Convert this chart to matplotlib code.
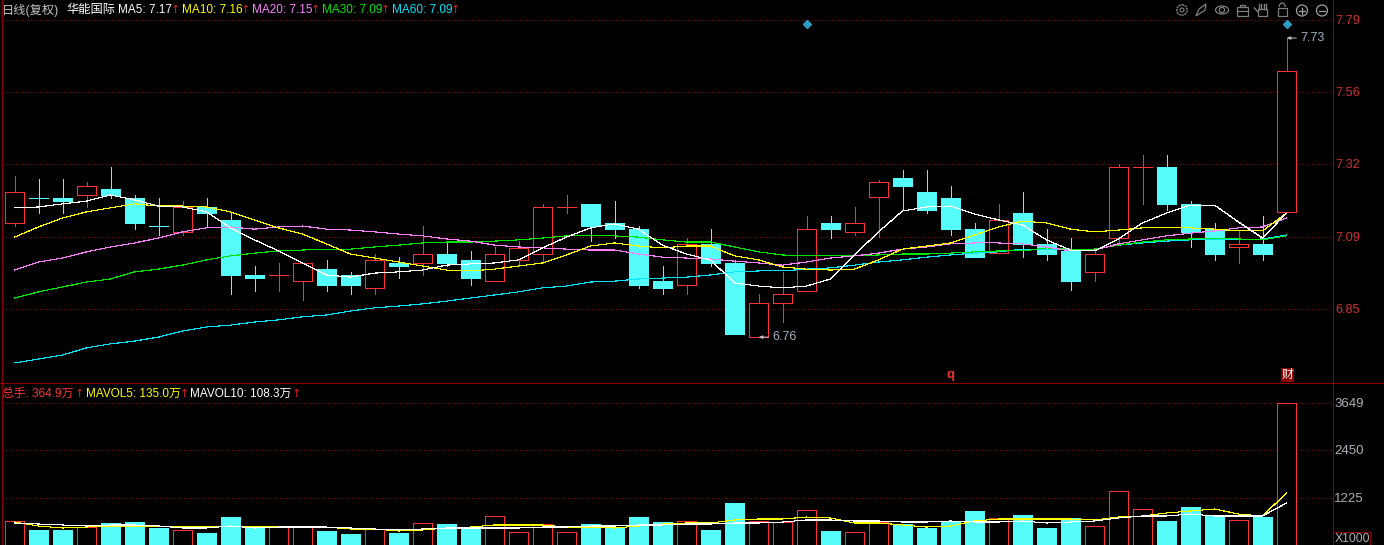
import matplotlib
matplotlib.use("Agg")
import matplotlib.pyplot as plt
from matplotlib.patches import Circle, Ellipse, Rectangle, Arc, Polygon

plt.rcParams['font.family'] = ['Liberation Sans', 'Noto Sans CJK SC', 'DejaVu Sans']

# daily candles
opens = [7.133, 7.213, 7.213, 7.223, 7.242, 7.213, 7.122, 7.103, 7.184, 7.142,
         6.963, 6.963, 6.943, 6.982, 6.963, 6.921, 7.002, 7.002, 7.031, 7.012,
         6.943, 7.012, 7.031, 7.184, 7.194, 7.132, 7.112, 6.943, 6.930, 7.064,
         7.002, 6.761, 6.872, 6.911, 7.132, 7.103, 7.216, 7.278, 7.233, 7.213,
         7.112, 7.034, 7.164, 7.064, 7.041, 6.973, 7.083, 7.314, 7.314, 7.194,
         7.112, 7.054, 7.064, 7.168]
highs = [7.285, 7.275, 7.275, 7.265, 7.314, 7.223, 7.213, 7.203, 7.213, 7.168,
         6.992, 7.002, 7.002, 7.012, 6.973, 7.031, 7.021, 7.122, 7.073, 7.041,
         7.054, 7.073, 7.194, 7.223, 7.194, 7.203, 7.122, 6.992, 7.083, 7.112,
         7.012, 6.901, 6.973, 7.155, 7.155, 7.184, 7.272, 7.304, 7.304, 7.252,
         7.132, 7.194, 7.233, 7.112, 7.083, 7.044, 7.324, 7.353, 7.353, 7.203,
         7.132, 7.109, 7.155, 7.733]
lows = [7.122, 7.164, 7.164, 7.184, 7.213, 7.112, 7.093, 7.093, 7.122, 6.901,
        6.911, 6.911, 6.882, 6.911, 6.901, 6.901, 6.953, 6.963, 6.992, 6.930,
        6.943, 6.992, 7.002, 7.164, 7.073, 7.083, 6.921, 6.901, 6.901, 6.992,
        6.771, 6.761, 6.810, 6.911, 7.083, 7.093, 7.086, 7.174, 7.164, 7.093,
        7.021, 7.034, 7.021, 7.012, 6.914, 6.943, 7.060, 7.194, 7.174, 7.054,
        7.012, 7.002, 7.012, 7.168]
closes = [7.233, 7.213, 7.203, 7.252, 7.223, 7.132, 7.122, 7.184, 7.164, 6.963,
          6.953, 6.963, 7.002, 6.930, 6.930, 7.012, 6.992, 7.031, 7.002, 6.953,
          7.031, 7.051, 7.184, 7.184, 7.122, 7.112, 6.930, 6.921, 7.064, 7.002,
          6.771, 6.872, 6.901, 7.112, 7.112, 7.132, 7.265, 7.252, 7.174, 7.112,
          7.021, 7.142, 7.064, 7.031, 6.943, 7.031, 7.314, 7.314, 7.194, 7.103,
          7.031, 7.064, 7.031, 7.626]
red_days = [0, 3, 7, 11, 12, 15, 17, 20, 21, 22, 23, 28, 31, 32, 33, 35, 36, 41, 45, 46, 47, 51, 53]

ma5 = [7.181, 7.184, 7.194, 7.203, 7.223, 7.207, 7.187, 7.184, 7.168, 7.116,
       7.077, 7.041, 7.002, 6.963, 6.956, 6.969, 6.973, 6.979, 6.995, 6.999,
       7.002, 7.012, 7.051, 7.086, 7.116, 7.129, 7.112, 7.060, 7.031, 7.012,
       6.937, 6.927, 6.921, 6.927, 6.950, 7.028, 7.103, 7.171, 7.184, 7.187,
       7.161, 7.142, 7.125, 7.077, 7.044, 7.041, 7.080, 7.132, 7.164, 7.190,
       7.190, 7.135, 7.083, 7.164]
ma10 = [7.086, 7.119, 7.148, 7.168, 7.181, 7.194, 7.187, 7.187, 7.184, 7.168,
        7.142, 7.116, 7.096, 7.064, 7.031, 7.018, 7.005, 6.992, 6.979, 6.976,
        6.982, 6.992, 7.002, 7.028, 7.057, 7.067, 7.057, 7.051, 7.057, 7.057,
        7.025, 7.012, 6.989, 6.982, 6.979, 6.982, 7.012, 7.047, 7.057, 7.067,
        7.093, 7.119, 7.138, 7.132, 7.112, 7.103, 7.109, 7.116, 7.116, 7.116,
        7.112, 7.106, 7.106, 7.164]
ma20 = [6.979, 7.005, 7.018, 7.038, 7.054, 7.067, 7.083, 7.103, 7.116, 7.119,
        7.112, 7.119, 7.122, 7.112, 7.109, 7.103, 7.096, 7.090, 7.080, 7.073,
        7.060, 7.054, 7.051, 7.047, 7.044, 7.044, 7.031, 7.021, 7.018, 7.015,
        7.008, 7.002, 6.995, 7.005, 7.018, 7.025, 7.034, 7.047, 7.054, 7.064,
        7.067, 7.067, 7.064, 7.054, 7.041, 7.044, 7.064, 7.077, 7.090, 7.099,
        7.106, 7.116, 7.119, 7.148]
ma30 = [6.888, 6.908, 6.924, 6.940, 6.950, 6.973, 6.982, 6.995, 7.012, 7.025,
        7.034, 7.041, 7.044, 7.047, 7.047, 7.054, 7.060, 7.067, 7.070, 7.070,
        7.073, 7.077, 7.083, 7.090, 7.090, 7.090, 7.086, 7.077, 7.070, 7.070,
        7.054, 7.038, 7.028, 7.025, 7.025, 7.025, 7.028, 7.031, 7.031, 7.034,
        7.038, 7.041, 7.041, 7.051, 7.047, 7.047, 7.060, 7.070, 7.077, 7.080,
        7.080, 7.080, 7.077, 7.090]
ma60 = [6.677, 6.690, 6.703, 6.726, 6.739, 6.748, 6.761, 6.781, 6.794, 6.800,
        6.810, 6.817, 6.827, 6.833, 6.846, 6.856, 6.862, 6.869, 6.878, 6.888,
        6.898, 6.908, 6.921, 6.927, 6.940, 6.943, 6.950, 6.953, 6.956, 6.963,
        6.973, 6.976, 6.976, 6.982, 6.986, 6.995, 7.005, 7.012, 7.021, 7.028,
        7.034, 7.038, 7.047, 7.047, 7.047, 7.047, 7.060, 7.067, 7.073, 7.077,
        7.077, 7.077, 7.080, 7.093]

# volume, in units of 1000 lots
volumes = [640, 410, 410, 486, 589, 614, 461, 410, 333, 742,
           461, 486, 486, 384, 307, 435, 333, 589, 563, 435,
           768, 358, 563, 358, 563, 461, 742, 614, 640, 410,
           1101, 640, 614, 922, 384, 358, 614, 563, 461, 614,
           896, 717, 794, 461, 717, 512, 1408, 947, 640, 998,
           768, 666, 742, 3649]
mavol5 = [614, 512, 461, 486, 512, 512, 512, 486, 486, 512,
          486, 486, 486, 486, 435, 435, 384, 410, 461, 486,
          538, 538, 538, 486, 486, 461, 512, 563, 589, 589,
          666, 691, 691, 742, 717, 589, 589, 538, 486, 512,
          640, 691, 691, 691, 691, 666, 742, 768, 845, 896,
          947, 819, 768, 1357]
mavol10 = [589, 563, 538, 512, 538, 538, 512, 461, 461, 512,
           461, 486, 486, 486, 461, 435, 410, 435, 461, 461,
           461, 461, 486, 486, 512, 512, 538, 538, 563, 563,
           589, 589, 614, 666, 666, 640, 640, 614, 614, 640,
           614, 614, 640, 589, 614, 640, 717, 768, 768, 819,
           768, 768, 768, 1101]

price_ticks = [7.79, 7.56, 7.32, 7.09, 6.85]
price_grid = [7.79, 7.556, 7.322, 7.085, 6.851]
vol_ticks = [3649, 2450, 1225]
event_days = [33, 53]
high_day, high_label = 53, '7.73'
low_day, low_label = 31, '6.76'

ma_headers = [('MA5: 7.17', 118, 171, '#ffffff'), ('MA10: 7.16', 182, 241, '#ffff00'),
              ('MA20: 7.15', 252, 311, '#ff80ff'), ('MA30: 7.09', 322, 381, '#00e600'),
              ('MA60: 7.09', 392, 451, '#00e6ff')]
vol_headers = [('总手: 364.9万', 2, 75, '#ff3232'), ('MAVOL5: 135.0万', 86, 180, '#ffff00'),
               ('MAVOL10: 108.3万', 190, 292, '#ffffff')]

RED = '#ff3232'
CYAN = '#54fcfc'
AXIS = '#8c0000'
GRID = '#800000'
W, H = 1384, 545
LEFT, RIGHT, SPLIT = 1.5, 1332.5, 382
PX = 0.72
HAIR = 0.05  # aliased, comes out as a clean 1 px line


def xlim_px():
    # candle i sits at pixel 14.5 + 24 i
    return (LEFT - 14.5) / 24, (RIGHT - 14.5) / 24


fig = plt.figure(figsize=(W / 100, H / 100), dpi=100, facecolor='black')
ax = fig.add_axes([LEFT / W, (H - SPLIT) / H, (RIGHT - LEFT) / W, SPLIT / H], facecolor='black')
vax = fig.add_axes([LEFT / W, 0, (RIGHT - LEFT) / W, (H - SPLIT) / H], facecolor='black')
ax.set_xlim(*xlim_px())
vax.set_xlim(*xlim_px())
ax.set_ylim(7.8566 - 0.00325 * SPLIT, 7.8566)
vax.set_ylim(25.6, (546 - SPLIT) * 25.6)
for a in (ax, vax):
    a.set_xticks([])
    a.set_yticks([])
    for s in a.spines.values():
        s.set_visible(False)

dots = (0, (0.7, 2.3))
for p in price_grid:
    ax.axhline(p, color=GRID, lw=PX, ls=dots, xmin=0.002, zorder=1, antialiased=False, dash_capstyle='butt')
for v in vol_ticks:
    vax.axhline(v, color=GRID, lw=PX, ls=dots, xmin=0.002, zorder=1, antialiased=False, dash_capstyle='butt')

# candles
for i in range(len(opens)):
    up = i in red_days
    top, bot = max(opens[i], closes[i]), min(opens[i], closes[i])
    c = RED if up else CYAN
    ax.plot([i, i], [top, highs[i]], color=c, lw=PX, zorder=2, antialiased=False, solid_capstyle='butt')
    ax.plot([i, i], [lows[i], bot], color=c, lw=PX, zorder=2, antialiased=False, solid_capstyle='butt')
    ax.bar(i, top - bot, bottom=bot, width=0.78, facecolor='black' if up else CYAN,
           edgecolor=c, linewidth=PX, zorder=3, antialiased=False)
    vax.bar(i, volumes[i], width=0.78, facecolor='black' if up else CYAN,
            edgecolor=c, linewidth=PX, zorder=3, antialiased=False)

days = list(range(len(opens)))
for vals, col in [(ma60, '#00e6ff'), (ma30, '#00e600'), (ma20, '#ff80ff'), (ma10, '#ffff00'), (ma5, '#ffffff')]:
    ax.plot(days, vals, color=col, lw=HAIR, zorder=4, antialiased=False)
vax.plot(days, mavol5, color='#ffff00', lw=HAIR, zorder=4, antialiased=False)
vax.plot(days, mavol10, color='#ffffff', lw=HAIR, zorder=4, antialiased=False)

# top diamonds, high and low labels
ax.plot(event_days, [7.779] * len(event_days), ls='none', marker='D', ms=4.2, color='#2e9bc4', zorder=5)
for day, value, label in [(high_day, highs[high_day], high_label), (low_day, lows[low_day], low_label)]:
    ax.annotate(label, xy=(day, value), xytext=(14, 0), textcoords='offset pixels',
                color='#a0b4c8', fontsize=9, va='center', zorder=6,
                arrowprops=dict(arrowstyle='-|>,head_width=0.1,head_length=0.25', color='#c0c0c0',
                                lw=0.7, shrinkA=1, shrinkB=0))

# overlay in pixels for frame lines, headers, tick labels, toolbar
ov = fig.add_axes([0, 0, 1, 1], facecolor='none')
ov.set_xlim(0, W)
ov.set_ylim(H, 0)
ov.axis('off')
ov.plot([1.5, 1.5], [0, H], color=AXIS, lw=PX, antialiased=False)
ov.plot([1332.5, 1332.5], [0, H], color=AXIS, lw=PX, antialiased=False)
ov.plot([0, W], [382.5, 382.5], color=AXIS, lw=PX, antialiased=False)

FS = 8.5
ov.text(2, 10, '日线(复权)', color='#c4c4c4', fontsize=FS + 0.3, va='center')
ov.text(66, 10, '华能国际', color='#ffffff', fontsize=FS + 0.3, va='center')
for label, x, arrow_x, col in ma_headers:
    ov.text(x, 10, label, color=col, fontsize=FS, va='center')
    ov.text(arrow_x, 10, '↑', color='#e02020', fontsize=FS - 0.5, va='center', family='DejaVu Sans')
for label, x, arrow_x, col in vol_headers:
    ov.text(x, 394, label, color=col, fontsize=FS, va='center')
    ov.text(arrow_x, 394, '↑', color='#e02020', fontsize=FS - 0.5, va='center', family='DejaVu Sans')

for t, p in zip(price_ticks, price_grid):
    ov.text(1335, 21.5 + (7.79 - p) / 0.00325, f'{t:.2f}', color='#d03030', fontsize=9.2, va='center')
for v in vol_ticks:
    ov.text(1334, 547 - v / 25.6, str(v), color='#a8b0b8', fontsize=9.5, va='center')
ov.add_patch(Rectangle((1332.5, 531.5), 37, 14, fc='none', ec=AXIS, lw=PX))
ov.text(1334.5, 538.5, 'X1000', color='#a8b0b8', fontsize=8.8, va='center')

ov.text(950.5, 375, 'q', color='#ff3232', fontsize=9.5, fontweight='bold', ha='center', va='center')
ov.text(1287.5, 375, '财', color='#ffffff', fontsize=8.5, ha='center', va='center',
        bbox=dict(boxstyle='square,pad=0.05', fc='#8c0000', ec='none'))

# toolbar icons
G = '#7f7f7f'
ov.add_patch(Circle((1182, 10), 5.2, fc='none', ec=G, lw=1.0, ls=(0, (1.6, 0.5))))
ov.add_patch(Circle((1182, 10), 2, fc='none', ec=G, lw=0.8))
ov.add_patch(Polygon([(1196, 16), (1199, 9), (1206, 4), (1205, 10), (1199, 14)], fc='none', ec=G, lw=0.9))
ov.add_patch(Ellipse((1222, 10), 13, 8, fc='none', ec=G, lw=0.9))
ov.add_patch(Circle((1222, 10), 2.6, fc='none', ec=G, lw=0.9))
ov.add_patch(Rectangle((1236.5, 7), 11, 8.5, fc='none', ec=G, lw=0.9))
ov.add_patch(Rectangle((1239.5, 4.5), 5, 2.5, fc='none', ec=G, lw=0.9))
ov.plot([1236.5, 1247.5], [10.5, 10.5], color=G, lw=0.9)
ov.add_patch(Rectangle((1258, 9), 8.5, 7, fc='none', ec=G, lw=0.9))
for fx in (1259, 1261.3, 1263.6, 1266):
    ov.plot([fx, fx], [3.5, 9], color=G, lw=1.0)
ov.plot([1254.5, 1258], [8, 12], color=G, lw=1.0)
ov.add_patch(Rectangle((1277.5, 8), 9.5, 7.5, fc='none', ec=G, lw=0.9))
ov.add_patch(Arc((1282.2, 7), 6, 8, theta1=180, theta2=360, ec=G, lw=0.9))
ov.add_patch(Circle((1302, 10.5), 5.5, fc='none', ec='#a0a0a0', lw=0.9))
ov.plot([1299, 1305], [10.5, 10.5], color='#a0a0a0', lw=0.9)
ov.plot([1302, 1302], [7.5, 13.5], color='#a0a0a0', lw=0.9)
ov.add_patch(Circle((1322, 10.5), 5.5, fc='none', ec='#a0a0a0', lw=0.9))
ov.plot([1319, 1325], [10.5, 10.5], color='#a0a0a0', lw=0.9)

fig.savefig('out.png', dpi=100, facecolor='black')
